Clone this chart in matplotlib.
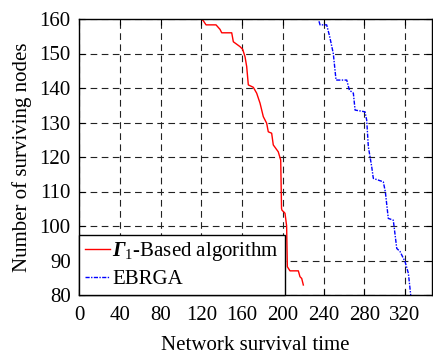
import matplotlib
matplotlib.use("Agg")
import matplotlib.pyplot as plt

plt.rcParams['font.family'] = ['Liberation Serif', 'DejaVu Serif']
plt.rcParams['mathtext.fontset'] = 'custom'
plt.rcParams['mathtext.rm'] = 'Liberation Serif'
plt.rcParams['mathtext.it'] = 'Liberation Serif:italic'
plt.rcParams['mathtext.bf'] = 'Liberation Serif:bold'
plt.rcParams['mathtext.bfit'] = 'Liberation Serif:italic:bold'

# Γ1-based algorithm (time, surviving nodes)
red_t = [0, 120, 122, 124.7, 134.5, 138.4, 140.1, 149.9, 151.5, 158, 160.7, 163, 164.6,
         166.2, 171.1, 174.4, 177.7, 180.9, 184.2, 185.8, 189.1, 190.7, 195.6, 198,
         198.8, 199.2, 202.2, 203.8, 204.5, 207.1, 215.3, 216.9, 218.6, 220.2]
red_n = [160, 160, 159.5, 158.3, 158.3, 157, 156, 156, 153.4, 152, 151.2, 149, 146.2,
         140.9, 140.2, 138.5, 135.6, 131.7, 129.8, 127.3, 126.9, 123.5, 121.5, 119.1,
         105.1, 104.6, 103.7, 100, 88.2, 87.0, 87.0, 85.3, 84.8, 82.9]

# EBRGA (time, surviving nodes)
blue_t = [0, 234.9, 236.6, 243.1, 246, 249.6, 252.3, 262.8, 265.4, 269.3, 271, 280.7,
          282.4, 284, 287.3, 288.9, 298.7, 300.7, 303.6, 308.5, 311.9, 315.1, 320,
          323.3, 325.6]
blue_n = [160, 160, 158.3, 158.3, 155, 150, 142.3, 142.3, 139.4, 138.5, 133.6, 133.1,
          130.7, 123, 117.2, 113.8, 112.8, 109.9, 102.2, 101.7, 93.5, 92.6, 89.7,
          86.3, 80]

xticks = [0, 40, 80, 120, 160, 200, 240, 280, 320]
yticks = [80, 90, 100, 110, 120, 130, 140, 150, 160]

FS = 15

fig = plt.figure(figsize=(4.33, 3.56), dpi=100)
ax = fig.add_axes([79/433, 1-295/356, (432-79)/433, (295-19)/356])

ax.plot(red_t, red_n, color=(1, 0, 0), lw=1.0,
        label=r'$\mathbfit{\Gamma}_{\mathrm{1}}$-Based algorithm')
ax.plot(blue_t, blue_n, color=(0, 0, 1), lw=1.0, linestyle=(0, (3, 1, 1, 1)),
        label='EBRGA')

ax.set_xlim(0, 346.5)
ax.set_ylim(80, 160)
ax.set_xticks(xticks)
ax.set_yticks(yticks)
ax.grid(True, color='#222222', linestyle=(0, (6, 4)), linewidth=0.8)
ax.tick_params(direction='in', top=True, right=True, labelsize=FS, pad=6,
               length=4, width=0.8)
ax.tick_params(axis='x', pad=8)
for s in ax.spines.values():
    s.set_linewidth(1.0)

ax.set_xlabel('Network survival time', fontsize=FS, labelpad=8)
ax.set_ylabel('Number of surviving nodes', fontsize=FS, labelpad=5)

leg = ax.legend(loc='lower left', borderaxespad=0, fontsize=FS, handlelength=1.2,
                handletextpad=0.1, labelspacing=0.3, borderpad=0.28, fancybox=False,
                framealpha=1)
leg.get_frame().set_edgecolor('black')
leg.get_frame().set_linewidth(1.0)

fig.savefig('out.png', dpi=100)
